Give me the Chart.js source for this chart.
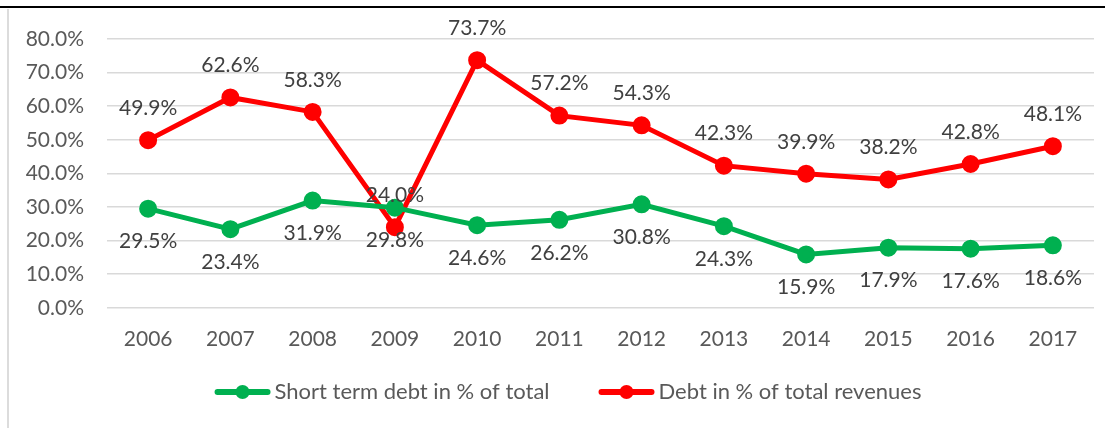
<!DOCTYPE html>
<html lang="en">
<head>
<meta charset="UTF-8">
<title>Debt ratios 2006-2017</title>
<script src="https://cdn.jsdelivr.net/npm/chart.js"></script>
<style>
    body { margin: 0; background: #fff; }
    .frame { position: relative; width: 1106px; height: 428px; }
    .frame canvas { position: absolute; left: 0; top: 0; }
    .line_top { position: absolute; left: 0; top: 6px; width: 1105px; height: 2px; background: #000; }
    .line_left { position: absolute; left: 7px; top: 9px; width: 2px; height: 419px; background: #dcdcdc; }
</style>
</head>
<body>
<div class="frame">
    <canvas id="debtChart" width="1106" height="428"></canvas>
    <div class="line_top"></div>
    <div class="line_left"></div>
</div>

<script>
var years = ['2006', '2007', '2008', '2009', '2010', '2011', '2012', '2013', '2014', '2015', '2016', '2017'];
var shortTermDebt = [29.5, 23.4, 31.9, 29.8, 24.6, 26.2, 30.8, 24.3, 15.9, 17.9, 17.6, 18.6];
var debtRevenues = [49.9, 62.6, 58.3, 24.0, 73.7, 57.2, 54.3, 42.3, 39.9, 38.2, 42.8, 48.1];

var GREEN = '#00b050';
var RED = '#ff0000';
var FONT = 'Lato, "Open Sans", sans-serif';

// value labels: red above the points, green below
var valueLabels = {
    id: 'valueLabels',
    afterDatasetsDraw: function (chart) {
        var ctx = chart.ctx;
        ctx.save();
        ctx.font = '21px ' + FONT;
        ctx.fillStyle = '#404040';
        ctx.textAlign = 'center';
        ctx.textBaseline = 'middle';
        chart.data.datasets.forEach(function (ds, i) {
            var meta = chart.getDatasetMeta(i);
            var shift = ds.labelSide === 'above' ? -32 : 33;
            meta.data.forEach(function (pt, j) {
                ctx.fillText(ds.data[j].toFixed(1) + '%', pt.x, pt.y + shift);
            });
        });
        ctx.restore();
    }
};

// legend under the axis: thick line with a dot, then the series name
var lineLegend = {
    id: 'lineLegend',
    afterDraw: function (chart) {
        var ctx = chart.ctx;
        var markW = 56, textGap = 4, itemGap = 49;
        var y = 392;
        ctx.save();
        ctx.font = '22px ' + FONT;
        ctx.textBaseline = 'middle';
        ctx.textAlign = 'left';
        var sets = chart.data.datasets;
        var total = 0;
        sets.forEach(function (ds, i) {
            total += markW + textGap + ctx.measureText(ds.label).width;
            if (i > 0) total += itemGap;
        });
        var x = 568 - total / 2;
        sets.forEach(function (ds) {
            ctx.strokeStyle = ds.borderColor;
            ctx.lineWidth = 6;
            ctx.lineCap = 'round';
            ctx.beginPath();
            ctx.moveTo(x + 3, y);
            ctx.lineTo(x + markW - 3, y);
            ctx.stroke();
            ctx.fillStyle = ds.borderColor;
            ctx.beginPath();
            ctx.arc(x + markW / 2, y, 7, 0, Math.PI * 2);
            ctx.fill();
            x += markW + textGap;
            ctx.fillStyle = '#595959';
            ctx.fillText(ds.label, x, y);
            x += ctx.measureText(ds.label).width + itemGap;
        });
        ctx.restore();
    }
};

new Chart(document.getElementById('debtChart'), {
    type: 'line',
    data: {
        labels: years,
        datasets: [
            {
                label: 'Short term debt in % of total',
                data: shortTermDebt,
                labelSide: 'below',
                borderColor: GREEN,
                backgroundColor: GREEN,
                borderWidth: 5,
                pointRadius: 6.5,
                pointHoverRadius: 6.5,
                tension: 0
            },
            {
                label: 'Debt in % of total revenues',
                data: debtRevenues,
                labelSide: 'above',
                borderColor: RED,
                backgroundColor: RED,
                borderWidth: 5,
                pointRadius: 6.5,
                pointHoverRadius: 6.5,
                tension: 0
            }
        ]
    },
    options: {
        responsive: false,
        animation: false,
        layout: {
            padding: { top: 39, right: 12, bottom: 57, left: 0 }
        },
        plugins: {
            tooltip: { enabled: false },
            legend: { display: false }
        },
        scales: {
            x: {
                offset: true,
                grid: { display: false, drawTicks: false },
                border: { display: false },
                ticks: {
                    color: '#595959',
                    font: { family: FONT, size: 21 },
                    padding: 19
                }
            },
            y: {
                min: 0,
                max: 80,
                grid: {
                    color: '#d9d9d9',
                    lineWidth: 1.5,
                    drawTicks: false
                },
                border: { display: false },
                ticks: {
                    stepSize: 10,
                    color: '#595959',
                    font: { family: FONT, size: 21 },
                    padding: 23,
                    callback: function (v) { return v.toFixed(1) + '%'; }
                },
                afterFit: function (scale) { scale.width = 107; }
            }
        }
    },
    plugins: [valueLabels, lineLegend]
});
</script>
</body>
</html>
